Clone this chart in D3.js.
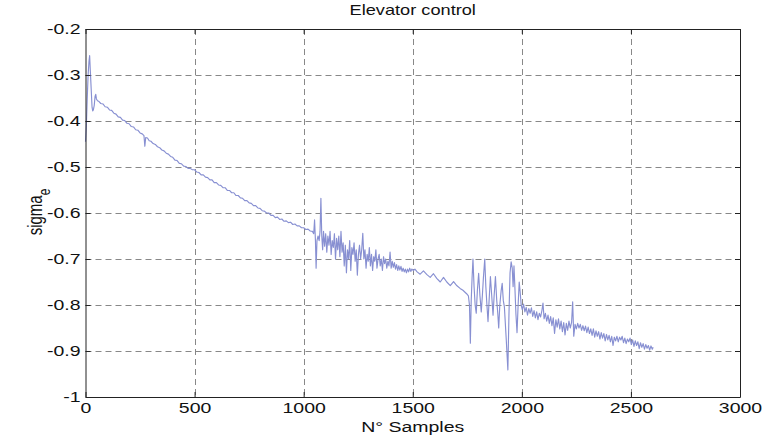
<!DOCTYPE html>
<html>
<head>
<meta charset="utf-8">
<script src="https://cdn.jsdelivr.net/npm/d3@7"></script>
<style>
  html, body { margin: 0; padding: 0; background: #fff; }
  svg { display: block; }
  text { font-family: "Liberation Sans", Arial, sans-serif; fill: #111; }
</style>
</head>
<body>
<svg id="chart" width="765" height="439"></svg>
<script>
// ---------------- data ----------------
const title = "Elevator control";
const xLabel = "N° Samples";
const yLabelMain = "sigma";
const yLabelSub = "e";

const xTicks = [0, 500, 1000, 1500, 2000, 2500, 3000];
const xTickLabels = ["0", "500", "1000", "1500", "2000", "2500", "3000"];
const yTicks = [-1, -0.9, -0.8, -0.7, -0.6, -0.5, -0.4, -0.3, -0.2];
const yTickLabels = ["-1", "-0.9", "-0.8", "-0.7", "-0.6", "-0.5", "-0.4", "-0.3", "-0.2"];

const samples = [
  0,4,8,12,16,19,22,26,30,33,
  36,40,44,47,50,55,60,70,80,90,
  100,110,120,130,140,150,160,170,180,190,
  200,210,220,230,240,250,260,268,272,276,
  284,292,300,310,320,330,340,350,360,370,
  380,390,400,410,420,430,440,450,460,470,
  480,490,500,510,520,530,540,550,560,570,
  580,590,600,610,620,630,640,650,660,670,
  680,690,700,710,720,730,740,750,760,770,
  780,790,800,810,820,830,840,850,860,870,
  880,890,900,910,920,930,940,950,960,970,
  980,990,1000,1010,1020,1030,1040,1046,1050,1054,
  1057,1061,1066,1071,1075,1079,1083,1087,1091,1096,
  1101,1106,1111,1116,1121,1126,1131,1136,1141,1146,
  1151,1156,1161,1166,1171,1176,1181,1186,1191,1196,
  1201,1206,1211,1216,1221,1226,1231,1236,1241,1246,
  1251,1256,1261,1266,1271,1276,1281,1286,1291,1296,
  1301,1306,1311,1316,1321,1326,1331,1336,1341,1346,
  1351,1356,1361,1366,1371,1376,1381,1386,1391,1396,
  1401,1406,1411,1416,1421,1426,1431,1436,1441,1446,
  1451,1456,1461,1466,1471,1476,1481,1486,1491,1496,
  1503,1510,1520,1534,1549,1565,1580,1595,1610,1626,
  1641,1656,1672,1687,1700,1717,1730,1748,1755,1760,
  1764,1768,1772,1776,1781,1786,1791,1796,1802,1808,
  1814,1819,1824,1830,1835,1840,1845,1850,1856,1862,
  1868,1873,1879,1885,1890,1894,1899,1905,1910,1915,
  1920,1928,1936,1941,1946,1951,1956,1960,1964,1968,
  1973,1978,1983,1988,1992,1997,2002,2008,2014,2020,
  2026,2032,2038,2044,2050,2056,2062,2068,2074,2080,
  2086,2092,2097,2102,2108,2114,2120,2126,2132,2138,
  2144,2150,2156,2162,2168,2174,2180,2186,2192,2198,
  2204,2210,2216,2222,2228,2233,2238,2244,2250,2256,
  2262,2268,2274,2280,2286,2292,2298,2304,2310,2316,
  2322,2328,2334,2340,2346,2352,2358,2364,2370,2376,
  2382,2388,2394,2400,2406,2412,2418,2424,2430,2436,
  2442,2448,2454,2460,2466,2472,2478,2484,2490,2496,
  2502,2508,2514,2520,2526,2532,2538,2544,2550,2556,
  2562,2568,2574,2580,2586,2592,2598,2602
];

const sigma = [
  -0.445,-0.410,-0.350,-0.300,-0.270,-0.258,-0.290,-0.330,-0.370,-0.378,
  -0.376,-0.366,-0.346,-0.342,-0.352,-0.356,-0.357,-0.362,-0.363,-0.369,
  -0.370,-0.376,-0.377,-0.383,-0.385,-0.391,-0.392,-0.398,-0.399,-0.405,
  -0.406,-0.412,-0.413,-0.419,-0.420,-0.426,-0.428,-0.432,-0.455,-0.436,
  -0.437,-0.443,-0.444,-0.449,-0.451,-0.456,-0.458,-0.463,-0.465,-0.470,
  -0.472,-0.477,-0.479,-0.485,-0.486,-0.492,-0.493,-0.498,-0.499,-0.503,
  -0.503,-0.506,-0.506,-0.511,-0.512,-0.517,-0.517,-0.522,-0.523,-0.528,
  -0.528,-0.534,-0.534,-0.539,-0.540,-0.545,-0.545,-0.551,-0.551,-0.556,
  -0.556,-0.562,-0.562,-0.567,-0.568,-0.573,-0.573,-0.578,-0.579,-0.584,
  -0.584,-0.589,-0.590,-0.595,-0.596,-0.600,-0.600,-0.605,-0.605,-0.610,
  -0.609,-0.614,-0.613,-0.618,-0.617,-0.621,-0.620,-0.625,-0.624,-0.628,
  -0.628,-0.632,-0.632,-0.636,-0.635,-0.639,-0.640,-0.645,-0.615,-0.660,
  -0.720,-0.660,-0.650,-0.660,-0.640,-0.568,-0.650,-0.680,-0.640,-0.672,
  -0.645,-0.685,-0.650,-0.670,-0.640,-0.690,-0.660,-0.675,-0.645,-0.700,
  -0.655,-0.680,-0.650,-0.695,-0.640,-0.685,-0.665,-0.715,-0.670,-0.730,
  -0.680,-0.700,-0.660,-0.725,-0.675,-0.690,-0.665,-0.705,-0.680,-0.735,
  -0.690,-0.670,-0.700,-0.680,-0.644,-0.700,-0.680,-0.720,-0.690,-0.705,
  -0.675,-0.715,-0.690,-0.725,-0.695,-0.705,-0.680,-0.720,-0.700,-0.690,
  -0.715,-0.700,-0.725,-0.695,-0.710,-0.700,-0.720,-0.705,-0.715,-0.685,
  -0.720,-0.705,-0.718,-0.708,-0.722,-0.712,-0.725,-0.715,-0.724,-0.716,
  -0.727,-0.720,-0.728,-0.722,-0.730,-0.722,-0.728,-0.720,-0.727,-0.722,
  -0.725,-0.722,-0.728,-0.733,-0.726,-0.734,-0.740,-0.732,-0.742,-0.750,
  -0.740,-0.750,-0.758,-0.749,-0.757,-0.764,-0.768,-0.776,-0.780,-0.800,
  -0.883,-0.790,-0.740,-0.700,-0.760,-0.800,-0.818,-0.770,-0.731,-0.780,
  -0.815,-0.780,-0.740,-0.700,-0.760,-0.800,-0.836,-0.790,-0.738,-0.780,
  -0.822,-0.780,-0.738,-0.790,-0.820,-0.850,-0.800,-0.770,-0.753,-0.790,
  -0.804,-0.870,-0.941,-0.820,-0.730,-0.706,-0.720,-0.760,-0.715,-0.760,
  -0.820,-0.860,-0.800,-0.750,-0.770,-0.800,-0.810,-0.798,-0.815,-0.805,
  -0.822,-0.808,-0.818,-0.806,-0.825,-0.812,-0.828,-0.815,-0.832,-0.818,
  -0.826,-0.812,-0.796,-0.830,-0.818,-0.835,-0.822,-0.840,-0.825,-0.845,
  -0.828,-0.862,-0.832,-0.848,-0.830,-0.852,-0.835,-0.858,-0.838,-0.865,
  -0.840,-0.855,-0.835,-0.850,-0.838,-0.793,-0.868,-0.842,-0.852,-0.840,
  -0.850,-0.842,-0.855,-0.845,-0.856,-0.846,-0.860,-0.848,-0.862,-0.852,
  -0.866,-0.852,-0.870,-0.856,-0.868,-0.858,-0.874,-0.860,-0.872,-0.862,
  -0.878,-0.864,-0.876,-0.866,-0.880,-0.868,-0.888,-0.870,-0.878,-0.868,
  -0.880,-0.870,-0.876,-0.868,-0.882,-0.872,-0.884,-0.874,-0.880,-0.872,
  -0.886,-0.876,-0.890,-0.878,-0.888,-0.880,-0.895,-0.882,-0.892,-0.884,
  -0.896,-0.886,-0.894,-0.888,-0.898,-0.889,-0.896,-0.892
];

// ---------------- layout ----------------
const SX = 1.3;           // horizontal stretch of the original picture's text
const plot = { left: 85.5, right: 740, top: 29, bottom: 397 };

const svg = d3.select("#chart");
const x = d3.scaleLinear().domain([0, 3000]).range([plot.left, plot.right]);
const y = d3.scaleLinear().domain([-1, -0.2]).range([plot.bottom, plot.top]);

const n = Math.min(samples.length, sigma.length);
const pts = d3.range(n).map(i => [samples[i], sigma[i]]);

// grid
const grid = svg.append("g").attr("stroke", "#7a7a7a").attr("stroke-width", 0.9)
  .attr("stroke-dasharray", "6,4").attr("fill", "none");
grid.selectAll("line.v").data(xTicks.slice(1, -1)).join("line")
  .attr("x1", d => Math.round(x(d)) + 0.5).attr("x2", d => Math.round(x(d)) + 0.5)
  .attr("y1", plot.top).attr("y2", plot.bottom);
grid.selectAll("line.h").data(yTicks.slice(1, -1)).join("line")
  .attr("y1", d => Math.round(y(d)) + 0.5).attr("y2", d => Math.round(y(d)) + 0.5)
  .attr("x1", plot.left).attr("x2", plot.right);

// data line
svg.append("path").datum(pts)
  .attr("fill", "none")
  .attr("stroke", "#8890d2")
  .attr("stroke-width", 1.15)
  .attr("stroke-linejoin", "round")
  .attr("d", d3.line().x(d => x(d[0])).y(d => y(d[1])));

// axes
function stretchText(sel) {
  sel.each(function () {
    const t = d3.select(this);
    const tx = +t.attr("x") || 0, ty = +t.attr("y") || 0;
    t.attr("x", 0).attr("y", 0).attr("transform", `translate(${tx},${ty}) scale(${SX},1)`);
  });
}
function styleAxis(g) {
  g.select(".domain").attr("stroke", "#222").attr("stroke-width", 1);
  g.selectAll(".tick line").attr("stroke", "#222");
  g.selectAll("text").attr("font-size", 15).attr("fill", "#111")
    .attr("font-family", '"Liberation Sans", Arial, sans-serif');
}
const xAxis = svg.append("g").attr("transform", `translate(0,${plot.bottom})`)
  .call(d3.axisBottom(x).tickValues(xTicks).tickFormat((d, i) => xTickLabels[i])
    .tickSizeInner(-5).tickSizeOuter(0).tickPadding(5));
styleAxis(xAxis); stretchText(xAxis.selectAll("text"));

const yAxis = svg.append("g").attr("transform", `translate(${plot.left},0)`)
  .call(d3.axisLeft(y).tickValues(yTicks).tickFormat((d, i) => yTickLabels[i])
    .tickSizeInner(-5).tickSizeOuter(0).tickPadding(5));
styleAxis(yAxis); stretchText(yAxis.selectAll("text"));

const xAxisTop = svg.append("g").attr("transform", `translate(0,${plot.top})`)
  .call(d3.axisTop(x).tickValues(xTicks).tickFormat("").tickSizeInner(-5).tickSizeOuter(0));
styleAxis(xAxisTop);
const yAxisRight = svg.append("g").attr("transform", `translate(${plot.right},0)`)
  .call(d3.axisRight(y).tickValues(yTicks).tickFormat("").tickSizeInner(-5).tickSizeOuter(0));
styleAxis(yAxisRight);

// title and labels
const cx = (plot.left + plot.right) / 2;
svg.append("text").attr("transform", `translate(${cx},15) scale(${SX},1)`)
  .attr("text-anchor", "middle").attr("font-size", 14).text(title);
svg.append("text").attr("transform", `translate(${cx},432) scale(${SX},1)`)
  .attr("text-anchor", "middle").attr("font-size", 15).text(xLabel);

const yl = svg.append("text").attr("transform", `translate(42,212) scale(${SX},1) rotate(-90)`)
  .attr("text-anchor", "middle").attr("font-size", 15);
yl.append("tspan").text(yLabelMain);
yl.append("tspan").attr("font-size", 12).attr("dy", 6).text(yLabelSub);
</script>
</body>
</html>
